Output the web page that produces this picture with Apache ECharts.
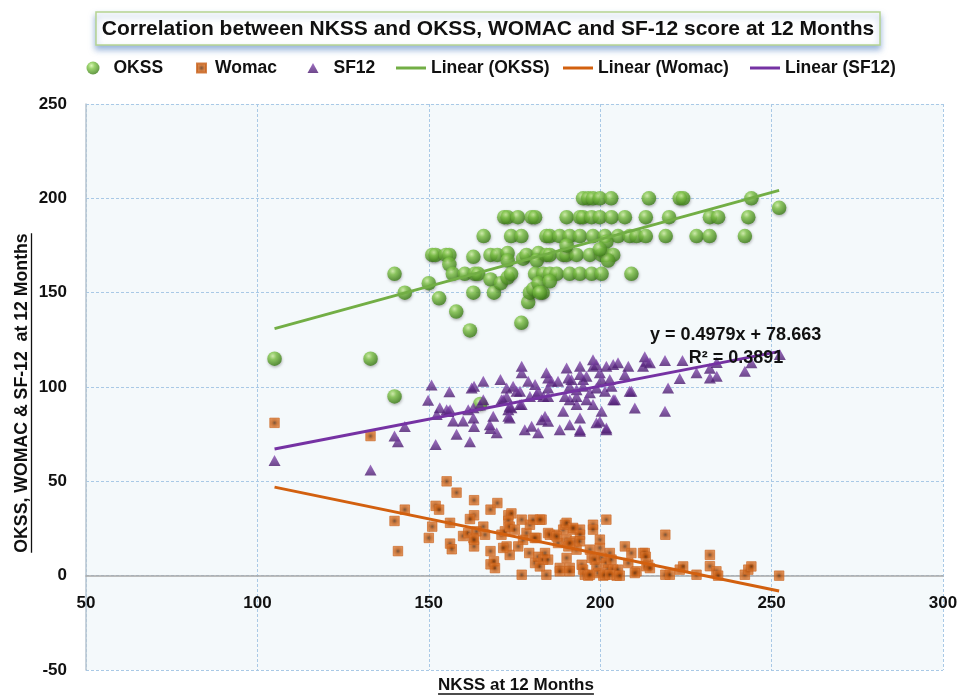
<!DOCTYPE html>
<html><head><meta charset="utf-8">
<script src="https://cdn.jsdelivr.net/npm/echarts@6/dist/echarts.min.js"></script>
<style>html,body{margin:0;padding:0;background:#fff}#c{width:971px;height:695px}</style>
</head><body><div id="c"></div>
<script>
const titleText = 'Correlation between NKSS and OKSS, WOMAC and SF-12 score at 12 Months';
const xAxisTitle = 'NKSS at 12 Months';
const yAxisTitle = 'OKSS, WOMAC & SF-12  at 12 Months';
const xTicks = [50, 100, 150, 200, 250, 300];
const yTicks = [-50, 0, 50, 100, 150, 200, 250];
const seriesNames = ['OKSS', 'Womac', 'SF12'];
const trendNames = ['Linear (OKSS)', 'Linear (Womac)', 'Linear (SF12)'];
const trendSlopes = [0.4979, -0.374, 0.351];
const trendIntercepts = [78.663, 86.2, 30.3];
const okssR2 = 0.3891;

const okssPoints = [
[105,115],[133,115],[140,95],[140,160],[143,150],[150,155],[151,170],[152,170],[155,170],[156,170],
[156,165],[153,147],[157,160],[158,140],[160.5,160],[162,130],[163,169],[163,150],[163.4,160],[164.4,160],
[165,91],[166,180],[168,170],[170,170],[173,171],[168,157],[169,150],[171,155],[173,167],[173,158],
[174,160],[174,180],[177,180],[172,190],[173,190],[176,190],[180,190],[181,190],[177,134],[179,145],
[179.5,150],[180.5,152],[177.5,168],[178.5,170],[182,171],[181.5,167],[181,160],[183.4,160],[182,155],[183.2,150],
[182.4,150],[184.3,180],[185.3,180],[188.2,180],[191.1,180],[194.1,180],[197.9,180],[201.4,180],[205.2,180],[208.6,180],
[210.6,180],[213.3,180],[219.1,180],[228.1,180],[231.9,180],[242.2,180],[201.8,177],[190.2,190],[194.1,190],[195,190],
[197.5,190],[199.9,190],[203.3,190],[207.2,190],[213.3,190],[220.1,190],[232,190],[234.4,190],[243.2,190],[195,200],
[196.5,200],[197.9,200],[199.9,200],[203.2,200],[214.2,200],[223.2,200],[224.2,200],[244.1,200],[252.2,195],[184.3,170],
[185.3,170],[189.2,170],[190.2,170],[193.1,170],[197,170],[200.4,170],[201.8,170],[203.8,170],[190.2,175],[202.3,167],
[199.9,173],[185.3,160],[187.3,160],[191.1,160],[194.1,160],[197.5,160],[200.4,160],[209.1,160],[185.3,156]
];

const womacPoints = [
[105,81],[133,74],[140,29],[141,13],[143,35],[150,20],[151,26],[152,37],[153,35],[155.2,50],
[158.1,44],[156.2,28],[156.2,17],[156.7,14],[163.2,40],[170,38.5],[168,35],[163.2,32],[162,30],[160,21],
[161.5,22.6],[163,20],[163.9,23.5],[165.9,26],[166.4,21.7],[163.2,15.5],[163.2,19],[168,13],[168,6],[169,7.6],
[169.3,4],[171.2,21.7],[172.2,23.5],[173.2,32],[174.1,33],[173.2,29],[173.6,26],[172.7,15.5],[173.6,11],[176.1,15.5],
[175.1,24.4],[177.1,29.7],[177.1,0.5],[177.5,19],[178.5,22.6],[179.5,27],[180.4,29.7],[181.4,20],[182.9,29.7],[181.9,10],
[181,6.7],[183.4,8.5],[184.3,0.5],[179.3,12],[180.9,20],[182.4,4.9],[184.8,22.6],[184.8,8.5],[183.9,12],[171.7,14.7],
[185.3,21.7],[186.8,21.7],[187.7,17.3],[188.2,4.1],[189.2,24.4],[189.7,27],[190.2,19.1],[190.2,9.4],[191.1,4.1],[190.7,15.5],
[192.1,24.4],[192.6,18.2],[193.1,13.8],[194.1,24.4],[194.1,21.7],[194.1,18.2],[194.6,5.8],[195,3.2],[195.5,0.5],[196.5,0],
[197,13.8],[197.5,9.4],[197.9,27],[197.9,24.4],[198.4,8.5],[198.9,4.9],[199.4,1.4],[199.9,19.1],[199.9,14.7],[200.4,9.4],
[200.9,0],[201.8,29.7],[201.8,6.7],[202.3,3.2],[202.8,12],[203.3,8.5],[203.8,3.2],[204.8,0],[205.2,3.2],[205.7,0],
[207.2,15.5],[208.2,6.7],[209.1,12],[210.6,2.3],[212.5,12],[214,5.8],[219,21.7],[213,12],[213.3,10],[213.5,5],
[214.5,4],[210.1,1.4],[219,0.5],[220.3,0.5],[223.2,3.2],[224.2,4.9],[228.1,0.5],[232,11],[232,5],[233.9,2.3],
[234.4,0],[242.2,0.5],[243.2,3.2],[244.1,4.9],[252.2,0],[190.2,28],[192.1,25.3],[201.4,0.5],[202.8,0.5],[197,0.5],
[188.2,2.3],[191.1,2.3],[182.4,29.7],[187.3,20.8],[191.1,17.3]
];

const sf12Points = [
[105,61],[133,56],[140,74],[141,71],[143,79],[150.8,101],[149.8,93],[152,69.5],[152.3,85.4],[153.2,89],
[155.2,88],[156.2,88],[156,97.5],[157.1,82],[160,82],[158.1,75],[162,71],[161.5,88],[163,89],[164.9,90.5],
[162.5,99.5],[163.2,100.4],[165.9,103],[163.2,79],[163,83.6],[165.9,93.3],[167.8,80],[168.8,84.5],[168,78],[169.8,75.7],
[170.9,104],[171.7,93.3],[172.7,95],[172.7,99.5],[174.6,100.4],[175.6,97.7],[173.2,88],[173.2,84.5],[174.1,89],[177.1,111],
[177.1,107.5],[177.1,90.7],[178,77.4],[180,79.2],[181.9,75.7],[179,103],[181,101.3],[181.9,97.7],[179.5,95],[181.4,96],
[183.4,95],[182.9,82.7],[183.9,84.5],[184.3,107.5],[184.8,81.8],[188.2,77.4],[191.1,80],[194.1,77.4],[189.2,87.1],[194.1,83.6],
[193.1,90.7],[197.9,90.7],[200.4,87.1],[198.9,81],[199.9,81.8],[201.8,77.4],[203.8,93.3],[208.6,97.7],[210.1,88.9],[184.8,104.8],
[185.8,103],[184.8,99.5],[184.8,95],[187.7,103],[190.2,110.1],[190.7,104.8],[191.1,100.4],[194.1,111],[194.1,106.6],[195,104],
[196,105.7],[197.9,114.5],[197.9,111],[198.9,111.9],[199.9,107.5],[200.4,104],[201.8,111],[202.8,104],[203.8,111.9],[205.2,112.8],
[207.2,106.6],[208.2,111],[212.5,111],[213,116],[213.5,113.6],[214.5,112.8],[218.9,114],[224,114],[223.2,104.5],[228.1,107.5],
[232,110],[232,104.8],[234,105.7],[234,113],[242.2,108.3],[244.1,112.8],[252.4,117.2],[219.8,99.5],[218.9,87.1],[209.1,97.7],
[193.1,98.6],[195,100.4],[197,96.9],[198.9,99.5],[201.4,97.7],[203.3,100.4],[189.7,95],[191.1,93.3],[193.1,95],[196,93.3],
[204.3,93.3],[201.8,78.3],[194.1,76.6],[191.6,104],[155.7,87],[171.2,93.3],[176.6,97.7],[173.6,83.6],[173.6,89.8],[176.6,90.7]
];

const FONT = '"Liberation Sans", Arial, sans-serif';
const chart = echarts.init(document.getElementById('c'));

const okssColor = {type:'radial', x:0.38, y:0.32, r:0.7, colorStops:[
  {offset:0, color:'#d4f5a8'}, {offset:0.35, color:'#82c84a'}, {offset:1, color:'#3b7d16'}]};
const womacColor = {type:'radial', x:0.5, y:0.5, r:0.7, colorStops:[
  {offset:0, color:'#5a2a08'}, {offset:0.35, color:'#c0590f'}, {offset:1, color:'#f0904a'}]};
const sf12Color = {type:'linear', x:0, y:0, x2:0, y2:1, colorStops:[
  {offset:0, color:'#8a4fb6'}, {offset:1, color:'#4a1a6e'}]};
const trendColors = ['#72ae45', '#d2600f', '#7532a3'];

function trendLine(points, k) {
  const xs = points.map(p => p[0]);
  const x0 = Math.min(...xs), x1 = Math.max(...xs);
  return [[x0, trendSlopes[k] * x0 + trendIntercepts[k]], [x1, trendSlopes[k] * x1 + trendIntercepts[k]]];
}

const measure = (txt, font) => {
  const ctx = document.createElement('canvas').getContext('2d');
  ctx.font = font; return ctx.measureText(txt).width;
};
const axisTitleFont = 'bold 17px ' + FONT;
const yTitleFont = 'bold 17.7px ' + FONT;
const xtW = measure(xAxisTitle, axisTitleFont);
const ytW = measure(yAxisTitle, yTitleFont);

const legendSpecs = [
  {name: seriesNames[0], left: 86.5, w: 13, h: 13, icon: 'circle', pad: 9},
  {name: seriesNames[1], left: 196, w: 9, h: 9, icon: 'rect', pad: 4},
  {name: seriesNames[2], left: 307.5, w: 11, h: 10, icon: 'triangle', pad: 10},
  {name: trendNames[0], left: 396, w: 30, h: 3, icon: 'rect', pad: 0},
  {name: trendNames[1], left: 563, w: 30, h: 3, icon: 'rect', pad: 0},
  {name: trendNames[2], left: 750, w: 30, h: 3, icon: 'rect', pad: 0}
];

const option = {
  animation: false,
  backgroundColor: '#ffffff',
  grid: {left: 86, right: 28, top: 104, bottom: 25, show: true, backgroundColor: '#f4f9fb', borderWidth: 0},
  legend: legendSpecs.map(s => ({
    data: [{name: s.name, icon: s.icon}], left: s.left, top: 59, itemWidth: s.w, itemHeight: s.h,
    selectedMode: false, padding: 0,
    textStyle: {fontFamily: FONT, fontWeight: 'bold', fontSize: 17.5, color: '#111', padding: [0, 0, 0, s.pad]}
  })),
  xAxis: {
    type: 'value', min: xTicks[0], max: xTicks[xTicks.length - 1], interval: xTicks[1] - xTicks[0],
    axisLine: {onZero: true, lineStyle: {color: '#a8a8a8', width: 1.5}},
    axisTick: {show: false},
    axisLabel: {fontFamily: FONT, fontWeight: 'bold', fontSize: 17, color: '#111', margin: -75},
    splitLine: {show: true, lineStyle: {color: '#a9c9e6', type: [3, 2], width: 1}}
  },
  yAxis: {
    type: 'value', min: yTicks[0], max: yTicks[yTicks.length - 1], interval: yTicks[1] - yTicks[0],
    axisLine: {show: true, onZero: false, lineStyle: {color: '#b7c4d0', width: 1.5}},
    axisTick: {show: false},
    axisLabel: {fontFamily: FONT, fontWeight: 'bold', fontSize: 17, color: '#111', margin: 19},
    splitLine: {show: true, lineStyle: {color: '#a9c9e6', type: [3, 2], width: 1}}
  },
  series: [
    {name: seriesNames[0], type: 'scatter', data: okssPoints, symbol: 'circle', symbolSize: 14.5, z: 2,
     itemStyle: {color: okssColor, shadowBlur: 3, shadowColor: 'rgba(0,0,0,0.35)', shadowOffsetY: 1.5, shadowOffsetX: 0.5}},
    {name: seriesNames[1], type: 'scatter', data: womacPoints, symbol: 'rect', symbolSize: 9.5, z: 3,
     itemStyle: {color: womacColor, borderColor: '#c8621c', borderWidth: 0.8}},
    {name: seriesNames[2], type: 'scatter', data: sf12Points, symbol: 'triangle', symbolSize: [12, 11], z: 4,
     itemStyle: {color: sf12Color}},
    ...[okssPoints, womacPoints, sf12Points].map((pts, k) => ({
      name: trendNames[k], type: 'line', data: trendLine(pts, k), symbol: 'none', z: 5,
      itemStyle: {color: trendColors[k]}, lineStyle: {color: trendColors[k], width: 3}
    }))
  ],
  graphic: [
    {type: 'rect', shape: {x: 96, y: 12, width: 784, height: 33}, z: 10,
     style: {fill: '#ffffff', stroke: '#b5d491', lineWidth: 1.5, shadowBlur: 6, shadowOffsetY: 4, shadowColor: 'rgba(70,120,190,0.55)'}},
    {type: 'text', x: 488, y: 29, z: 11,
     style: {text: titleText, fontFamily: FONT, fontWeight: 'bold', fontSize: 21, fill: '#111', align: 'center', verticalAlign: 'middle'}},
    {type: 'text', x: 516, y: 685, z: 11,
     style: {text: xAxisTitle, font: axisTitleFont, fill: '#111', align: 'center', verticalAlign: 'middle'}},
    {type: 'line', z: 11, shape: {x1: 516 - xtW / 2, y1: 694, x2: 516 + xtW / 2, y2: 694}, style: {stroke: '#111', lineWidth: 1.3}},
    {type: 'group', x: 22, y: 393, rotation: Math.PI / 2, z: 11, children: [
      {type: 'text', x: 0, y: 0, style: {text: yAxisTitle, font: yTitleFont, fill: '#111', align: 'center', verticalAlign: 'middle'}},
      {type: 'line', shape: {x1: -ytW / 2, y1: 9.5, x2: ytW / 2, y2: 9.5}, style: {stroke: '#111', lineWidth: 1.3}}
    ]},
    {type: 'text', x: 650, y: 335, z: 11,
     style: {text: 'y = ' + trendSlopes[0] + 'x + ' + trendIntercepts[0], fontFamily: FONT, fontWeight: 'bold', fontSize: 18, fill: '#111', verticalAlign: 'middle'}},
    {type: 'text', x: 736, y: 358, z: 11,
     style: {text: 'R\u00B2 = ' + okssR2, fontFamily: FONT, fontWeight: 'bold', fontSize: 18, fill: '#111', align: 'center', verticalAlign: 'middle'}}
  ]
};
chart.setOption(option);
</script>
</body></html>
